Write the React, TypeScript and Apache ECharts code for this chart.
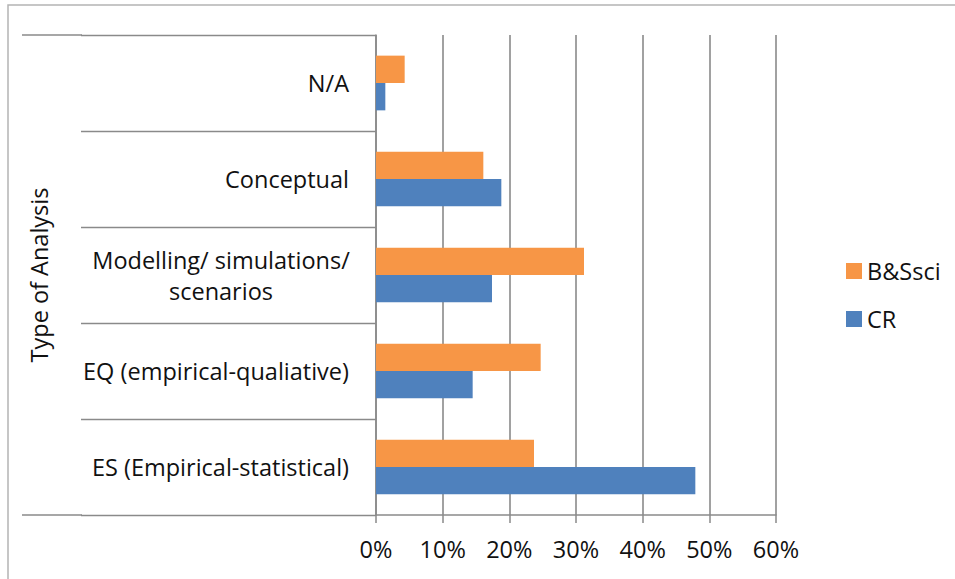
import React, { useEffect, useRef } from "react";
import * as echarts from "echarts";

const categories = [
  "ES (Empirical-statistical)",
  "EQ (empirical-qualiative)",
  "Modelling/ simulations/ scenarios",
  "Conceptual",
  "N/A",
];
const crValues = [47.9, 14.5, 17.4, 18.8, 1.4];
const bssciValues = [23.7, 24.7, 31.2, 16.1, 4.3];
const seriesNames = ["B&Ssci", "CR"];
const legendOrder = ["B&Ssci", "CR"];
const xTicks = { min: 0, max: 60, interval: 10 };
const axisTitle = "Type of Analysis";

const FONT = "'Open Sans', 'Noto Sans', sans-serif";
const FS = 23.5;
const GRAY = "#8a8a8a";

export default function App() {
  const ref = useRef<HTMLDivElement>(null);
  useEffect(() => {
    if (!ref.current) return;
    const chart = echarts.init(ref.current, null, { renderer: "svg" });
    chart.setOption({
      animation: false,
      backgroundColor: "#ffffff",
      textStyle: { fontFamily: FONT },
      grid: { left: 376, right: 179, top: 35, bottom: 64, containLabel: false },
      legend: {
        orient: "vertical",
        left: 841,
        top: 251,
        data: legendOrder,
        icon: "rect",
        itemWidth: 16,
        itemHeight: 16,
        itemGap: 18,
        textStyle: { fontSize: FS, color: "#111", fontFamily: FONT, lineHeight: 30 },
      },
      xAxis: {
        type: "value",
        min: xTicks.min,
        max: xTicks.max,
        interval: xTicks.interval,
        axisLine: { show: true, lineStyle: { color: GRAY, width: 1.5 } },
        axisTick: { show: true, length: 8, lineStyle: { color: GRAY, width: 1.5 } },
        splitLine: { show: true, lineStyle: { color: GRAY, width: 1.6 } },
        axisLabel: {
          formatter: "{value}%",
          fontSize: FS,
          color: "#111",
          fontFamily: FONT,
          margin: 22,
        },
      },
      yAxis: {
        type: "category",
        data: categories,
        name: axisTitle,
        nameLocation: "middle",
        nameGap: 325,
        nameTextStyle: { fontSize: FS, color: "#111", fontFamily: FONT },
        axisLine: { show: true, lineStyle: { color: GRAY, width: 1.5 } },
        axisTick: {
          show: true,
          length: 295,
          alignWithLabel: false,
          lineStyle: { color: GRAY, width: 1.3 },
        },
        splitLine: { show: false },
        axisLabel: {
          margin: 27,
          fontSize: FS,
          color: "#111",
          fontFamily: FONT,
          formatter: (v: string) =>
            v.startsWith("Modelling")
              ? "{c|Modelling/ simulations/}\n{c|scenarios}"
              : v,
          rich: {
            c: {
              width: 256,
              align: "center",
              fontSize: FS,
              lineHeight: 31,
              color: "#111",
              fontFamily: FONT,
            },
          },
        },
      },
      series: [
        {
          name: seriesNames[0],
          type: "bar",
          data: bssciValues,
          barGap: "0%",
          barCategoryGap: "43%",
          itemStyle: { color: "#F79646" },
        },
        {
          name: seriesNames[1],
          type: "bar",
          data: crValues,
          barGap: "0%",
          barCategoryGap: "43%",
          itemStyle: { color: "#4F81BD" },
        },
      ],
      graphic: [
        {
          type: "rect",
          shape: { x: 8, y: 5, width: 960, height: 600 },
          style: { fill: "none", stroke: "#b4b4b4", lineWidth: 1.5 },
          silent: true,
          z: -1,
        },
        {
          type: "line",
          shape: { x1: 22, y1: 35, x2: 82, y2: 35 },
          style: { stroke: GRAY, lineWidth: 1.3 },
        },
        {
          type: "line",
          shape: { x1: 22, y1: 515, x2: 82, y2: 515 },
          style: { stroke: GRAY, lineWidth: 1.3 },
        },
      ],
    });
    return () => chart.dispose();
  }, []);
  return (
    <div
      ref={ref}
      style={{ position: "fixed", left: 0, top: 0, width: 955, height: 579 }}
    />
  );
}
